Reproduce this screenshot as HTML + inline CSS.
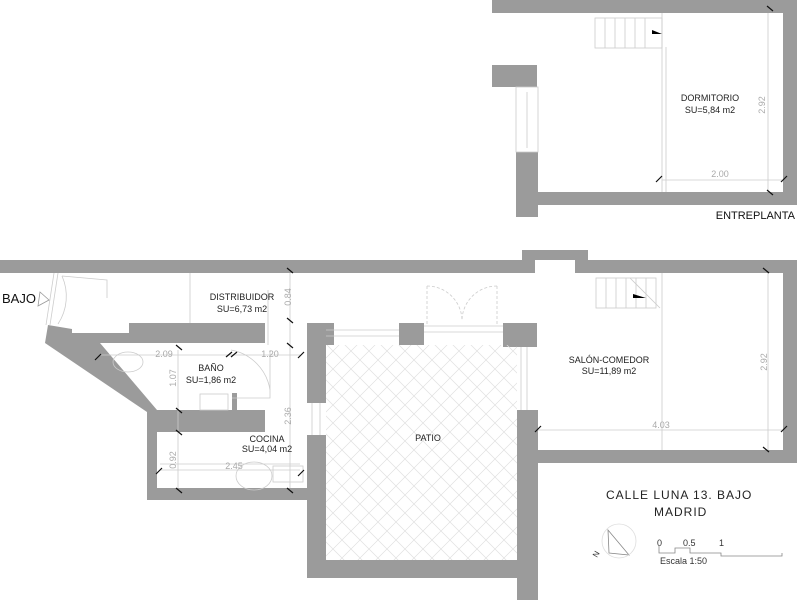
<!DOCTYPE html>
<html><head><meta charset="utf-8"><style>
html,body{margin:0;padding:0;background:#fff;}
svg{display:block;}
text{font-family:"Liberation Sans",sans-serif;}
</style></head><body>
<svg width="797" height="600" viewBox="0 0 797 600" xmlns="http://www.w3.org/2000/svg">
<defs>
<pattern id="hatch" width="18" height="18" patternUnits="userSpaceOnUse">
<path d="M0 0L18 18M18 0L0 18" stroke="#e0e0e0" stroke-width="0.7"/>
</pattern>
</defs>
<rect width="797" height="600" fill="#fff"/>
<g fill="#9b9b9b">
<rect x="492" y="0" width="305" height="13"/>
<rect x="783" y="0" width="14" height="205"/>
<rect x="516" y="192" width="281" height="13"/>
<rect x="516" y="152" width="22" height="65"/>
<rect x="492" y="65" width="45" height="22"/>
<rect x="0" y="260" width="797" height="13"/>
<rect x="522" y="250" width="66" height="12"/>
<rect x="783" y="260" width="14" height="203"/>
<rect x="517" y="450" width="280" height="13"/>
<rect x="517" y="410" width="21" height="190"/>
<rect x="503" y="323" width="34" height="24"/>
<rect x="399" y="323" width="25" height="22"/>
<rect x="307" y="323" width="27" height="22"/>
<rect x="307" y="323" width="19" height="80"/>
<rect x="307" y="435" width="19" height="143"/>
<rect x="307" y="560" width="231" height="18"/>
<polygon points="48,325 72,329 72,333 129,333 129,323 265,323 265,343 100,343 157,410 265,410 265,432 157,432 157,488 307,488 307,500 147,500 147,412 45,343"/>
<rect x="232" y="393" width="5" height="17"/>
</g>
<rect x="535" y="260" width="40" height="13" fill="#fff"/>
<rect x="326" y="345" width="191" height="215" fill="url(#hatch)"/>
<g stroke="#ccc" stroke-width="0.8" fill="none">
<rect x="595" y="18" width="67" height="30"/>
<path d="M605 18V48M615 18V48M625 18V48M635 18V48M645 18V48"/>
<path d="M662 13V192M666 47V192M662 180H783M768 13V192"/>
<rect x="516" y="87" width="22" height="65"/>
<path d="M527 92V148"/>
<path d="M190 273V323M58 273L50 325M54 273L46 325"/>
<path d="M62 276A50 50 0 0 1 58 324"/>
<path d="M62 276L107 280L107 298"/>
<path d="M100 355H300M290 273V488M178 350V488M268 290V345"/>
<path d="M160 464H300M160 470H300"/>
<path d="M270 350V398H232"/>
<path d="M231 350A48 48 0 0 1 270 390"/>
<rect x="200" y="394" width="28" height="16"/>
<ellipse cx="128" cy="362" rx="15" ry="10"/>
<ellipse cx="254" cy="476" rx="18" ry="14"/>
<rect x="273" y="466" width="30" height="16"/>
<path d="M326 330H399M326 336H399M424 326H503M424 332H503"/>
<path d="M427 286V326M497 286V326" stroke-dasharray="3,2"/>
<path d="M427 286A35 35 0 0 1 462 320M497 286A35 35 0 0 0 462 320" stroke-dasharray="3,2"/>
<path d="M521 347V410M527 347V410"/>
<path d="M312 403V435M320 403V435"/>
<rect x="596" y="278" width="60" height="30"/>
<path d="M606 278V308M616 278V308M626 278V308M636 278V308M646 278V308"/>
<path d="M630 278L660 308M662 273V450M538 430H783M768 273V450"/>
</g>
<path d="M633 294L646 298L633 298Z M652 30L662 34L652 34Z" fill="#000"/>
<g stroke="#111" stroke-width="1.2">
<path d="M767 6L773 11M656 182L662 176M781 182L787 176M767 190L773 195"/>
<path d="M287 268L293 273M287 318L293 323M287 343L293 348M298 358L304 352M176 345L182 350M95 360L101 354M176 408L182 413M176 430L182 435M156 474L162 468M176 488L182 493M287 488L293 493M298 476L304 470M226 357L232 352M231 357L237 352"/>
<path d="M763 268L769 273M535 432L541 426M781 432L787 426M763 447L769 452"/>
</g>
<g stroke="#888" stroke-width="0.8" fill="none">
<path d="M659 546V553H675V548H690V553H721V556H782V553"/>
<path d="M608 530L609 553L629 555Z"/>
<circle cx="619" cy="541" r="17" stroke="#ddd"/>
</g>
<g font-size="9" fill="#222" text-anchor="middle">
<text x="710" y="101">DORMITORIO</text><text x="710" y="113">SU=5,84 m2</text>
<text x="242" y="300">DISTRIBUIDOR</text><text x="242" y="312">SU=6,73 m2</text>
<text x="211" y="371">BAÑO</text><text x="211" y="383">SU=1,86 m2</text>
<text x="267" y="442">COCINA</text><text x="267" y="452">SU=4,04 m2</text>
<text x="428" y="441">PATIO</text>
<text x="609" y="363">SALÓN-COMEDOR</text><text x="609" y="374">SU=11,89 m2</text>
</g>
<g font-size="9" fill="#aaa" text-anchor="middle">
<text x="720" y="177">2.00</text>
<text x="164" y="357">2.09</text><text x="270" y="357">1.20</text>
<text x="234" y="469">2.45</text><text x="661" y="428">4.03</text>
<text transform="translate(765,105) rotate(-90)">2.92</text>
<text transform="translate(291,297) rotate(-90)">0.84</text>
<text transform="translate(176,378) rotate(-90)">1.07</text>
<text transform="translate(291,416) rotate(-90)">2.36</text>
<text transform="translate(176,460) rotate(-90)">0.92</text>
<text transform="translate(767,362) rotate(-90)">2.92</text>
</g>
<rect x="308" y="403" width="17" height="32" fill="#fff"/>
<path d="M312 403V435M320 403V435" stroke="#ccc" stroke-width="0.8"/>
<text x="795" y="219" font-size="11" fill="#111" text-anchor="end">ENTREPLANTA</text>
<text x="2" y="303" font-size="13" fill="#111">BAJO</text>
<path d="M40 292L49 300L38 306Z" fill="none" stroke="#999" stroke-width="0.8"/>
<text x="606" y="499" font-size="12" fill="#222" letter-spacing="1">CALLE LUNA 13. BAJO</text>
<text x="654" y="516" font-size="12" fill="#222" letter-spacing="1">MADRID</text>
<g font-size="9" fill="#333">
<text x="657" y="546">0</text><text x="683" y="546">0.5</text><text x="719" y="546">1</text>
<text x="660" y="564">Escala 1:50</text>
<text transform="translate(597,558) rotate(-60)" font-size="8">N</text>
</g>
</svg>
</body></html>
